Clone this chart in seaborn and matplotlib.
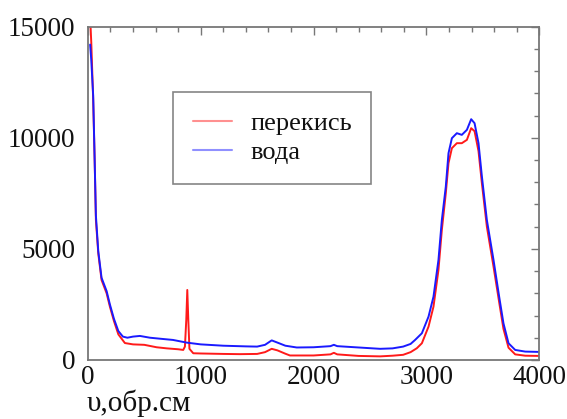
import matplotlib
matplotlib.use("Agg")
import matplotlib.pyplot as plt
from matplotlib.lines import Line2D
from matplotlib.ticker import MultipleLocator
import numpy as np
import pandas as pd
import seaborn as sns

# ---- data ----
water_x = [20, 30, 47, 60, 71, 92, 121, 166, 195, 231, 270, 310, 350, 400, 461, 550, 650, 754,
           875, 1000, 1200, 1400, 1500, 1570, 1629, 1680, 1750, 1851, 2000, 2150, 2180, 2210,
           2400, 2590, 2700, 2794, 2860, 2900, 2960, 3019, 3063, 3107, 3137, 3172, 3196, 3226,
           3270, 3314, 3359, 3397, 3427, 3462, 3492, 3536, 3595, 3645, 3683, 3728, 3787, 3876, 4000]
water_y = [14200, 13500, 11900, 9000, 6500, 4900, 3700, 3100, 2500, 1850, 1300, 1050, 1000, 1050,
           1080, 1000, 950, 900, 780, 700, 640, 610, 600, 680, 880, 780, 640, 560, 570, 620, 680,
           620, 560, 500, 520, 600, 720, 900, 1200, 1950, 2850, 4500, 6300, 7800, 9310, 9985,
           10210, 10135, 10360, 10840, 10660, 9760, 8260, 6300, 4500, 2850, 1650, 750, 450, 375, 360]

perox_x = [22, 30, 47, 60, 71, 92, 121, 166, 195, 231, 270, 328, 400, 500, 609, 700, 800, 845,
           860, 872, 881, 890, 900, 934, 1000, 1200, 1348, 1500, 1570, 1629, 1680, 1750, 1791,
           2000, 2150, 2180, 2210, 2400, 2590, 2700, 2794, 2860, 2915, 2960, 3019, 3063, 3107,
           3137, 3172, 3196, 3226, 3270, 3314, 3359, 3397, 3427, 3462, 3492, 3536, 3595, 3645,
           3683, 3728, 3787, 3876, 4000]
perox_y = [15200, 14300, 11700, 9000, 6300, 4800, 3600, 3000, 2400, 1750, 1150, 760, 700, 680,
           570, 520, 480, 450, 600, 1800, 3150, 1800, 500, 300, 290, 270, 260, 270, 350, 500, 430,
           280, 200, 200, 250, 320, 250, 180, 160, 190, 230, 350, 525, 750, 1500, 2400, 4050,
           5850, 7500, 8860, 9535, 9760, 9760, 9910, 10435, 10300, 9400, 7950, 6000, 4200, 2600,
           1400, 550, 250, 190, 180]

labels = ["перекись", "вода"]
xticks = [0, 1000, 2000, 3000, 4000]
yticks = [0, 5000, 10000, 15000]
xlabel = "υ,обр.см"

df = pd.concat([
    pd.DataFrame({"x": perox_x, "y": perox_y, "s": labels[0]}),
    pd.DataFrame({"x": water_x, "y": water_y, "s": labels[1]}),
], ignore_index=True)

sns.set_theme(style="white")
plt.rcParams["font.family"] = ["Liberation Serif", "DejaVu Serif"]

fig = plt.figure(figsize=(5.67, 4.19), dpi=100)
ax = fig.add_axes([0.155, 0.141, 0.796, 0.795])

colors = {labels[0]: "#ff1a1a", labels[1]: "#1a1aff"}
sns.lineplot(data=df, x="x", y="y", hue="s", palette=colors, estimator=None,
             sort=False, linewidth=1.4, ax=ax, legend=False)

ax.set_xlim(0, 4000)
ax.set_ylim(0, 15000)
ax.set_xticks(xticks)
ax.set_yticks(yticks)
ax.xaxis.set_minor_locator(MultipleLocator(200))
ax.yaxis.set_minor_locator(MultipleLocator(1000))
ax.tick_params(which="both", direction="in", top=True, right=True, color="#777777",
               width=1.0, labelsize=19.5, labelcolor="#111111")
ax.tick_params(which="major", length=6)
ax.tick_params(which="minor", length=3.5)
ax.tick_params(axis="y", pad=9)
ax.tick_params(axis="x", pad=4)
for sp in ax.spines.values():
    sp.set_color("#777777")
    sp.set_linewidth(1.3)

ax.set_ylabel("")
ax.set_xlabel(xlabel, fontsize=21, color="#111111")
ax.xaxis.set_label_coords(0.112, -0.13)
ax.xaxis.label.set_verticalalignment("center")

handles = [Line2D([], [], color="#ff9090", lw=1.5), Line2D([], [], color="#9090ff", lw=1.5)]
leg = ax.legend(handles, labels, loc="upper left", bbox_to_anchor=(0.188, 0.805),
                borderaxespad=0, fontsize=19, frameon=True, fancybox=False,
                handlelength=1.5, handletextpad=0.68, borderpad=0.75, labelspacing=0.2)
leg.get_frame().set_edgecolor("#666666")
leg.get_frame().set_linewidth(1.2)
for t in leg.get_texts():
    t.set_color("#111111")

fig.savefig("out.png", dpi=100)
